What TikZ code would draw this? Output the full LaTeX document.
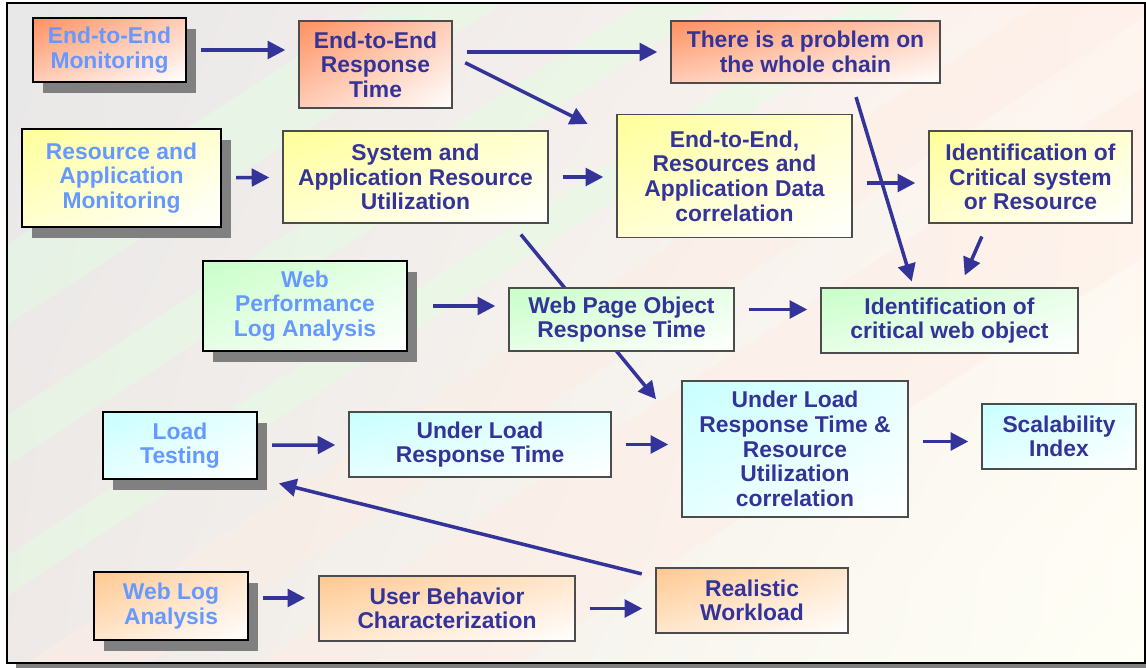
\documentclass[tikz,border=0pt]{standalone}
\usepackage{fontspec}
\setmainfont{Liberation Sans}
\usetikzlibrary{arrows.meta, shadows, shadings}

\definecolor{txtdark}{HTML}{333399}
\definecolor{txtlight}{HTML}{6699FF}
\definecolor{arrowblue}{HTML}{333399}
\definecolor{fillorange}{HTML}{FF9060}
\definecolor{fillyellow}{HTML}{FFFF99}
\definecolor{fillgreen}{HTML}{C8FFC8}
\definecolor{fillcyan}{HTML}{C8FFFF}
\definecolor{fillpeach}{HTML}{FFC890}
\definecolor{bggray}{HTML}{E8E8E8}
\definecolor{bgcream}{HTML}{FFFFF6}
\definecolor{bandgreen}{HTML}{E2FFE2}
\definecolor{bandpink}{HTML}{FFEDE4}

\pgfdeclarelayer{bg}
\pgfdeclarelayer{behind}
\pgfsetlayers{bg,behind,main}

\tikzset{
  x=0.2mm, y=-0.2mm,
  sz/.style 2 args={minimum width=#1*0.2mm, minimum height=#2*0.2mm},
  box/.style={draw=black!70, line width=0.8pt, align=center, inner sep=1pt,
    text=txtdark, font=\bfseries\fontsize{13}{14}\selectfont,
    upper left=#1, upper right=#1!45!white, lower left=#1!45!white, lower right=white},
  source/.style={box=#1, draw=black, line width=1.4pt, text=txtlight,
    drop shadow={shadow xshift=2mm, shadow yshift=-2.2mm, fill=black!50, opacity=1}},
  arr/.style={draw=arrowblue, line width=2pt, -{Triangle[length=10pt, width=10pt]},
    shorten <=2.8mm, shorten >=2.6mm}
}

\begin{document}
\begin{tikzpicture}
\useasboundingbox (0,0) rectangle (1146,668);

% background
\begin{pgfonlayer}{bg}
\fill[black!50] (16,663) rectangle (1146,668);
\shade[upper left=bggray, upper right=bandpink!60!white, lower left=bggray!70!bandpink, lower right=bgcream]
  (7,3) rectangle (1145,663);
\begin{scope}
\clip (7,3) rectangle (1145,663);
\foreach \ca/\cb/\col in {250/330/bandgreen, 420/470/bandgreen, 560/600/bandgreen,
                          680/760/bandpink, 830/1000/bandpink} {
  \fill[\col, opacity=0.45] (0,\ca) -- (0,\cb) -- (1146,\cb-745) -- (1146,\ca-745) -- cycle;
}
\end{scope}
\draw[line width=0.8pt] (7,3) rectangle (1145,663);
\end{pgfonlayer}

% boxes
\node[source=fillorange, sz={153}{64}] (emon) at (109.5,50) {End-to-End\\Monitoring};
\node[box=fillorange, sz={153}{87}] (ert) at (375.5,64.5) {End-to-End\\Response\\Time};
\node[box=fillorange, sz={269}{62}] (prob) at (805.5,52) {There is a problem on\\the whole chain};
\node[source=fillyellow, sz={199}{98}] (rmon) at (121.5,178) {Resource and\\Application\\Monitoring};
\node[box=fillyellow, sz={265}{92}] (sysu) at (415.5,177) {System and\\Application Resource\\Utilization};
\node[box=fillyellow, sz={235}{123}] (corr) at (734.5,176) {End-to-End,\\Resources and\\Application Data\\correlation};
\node[box=fillyellow, sz={203}{92}] (crit) at (1030.5,177) {Identification of\\Critical system\\or Resource};
\node[source=fillgreen, sz={204}{90}] (wplog) at (305,306) {Web\\Performance\\Log Analysis};
\node[box=fillgreen, sz={225}{63}] (wpo) at (621.5,319.5) {Web Page Object\\Response Time};
\node[box=fillgreen, sz={257}{65}] (wobj) at (949.5,320.5) {Identification of\\critical web object};
\node[source=fillcyan, sz={154}{67}] (load) at (180,445.5) {Load\\Testing};
\node[box=fillcyan, sz={262}{65}] (ulrt) at (480,444.5) {Under Load\\Response Time};
\node[box=fillcyan, sz={226}{136}] (ulcorr) at (795,449) {Under Load\\Response Time \&\\Resource\\Utilization\\correlation};
\node[box=fillcyan, sz={154}{65}] (scal) at (1059,436.5) {Scalability\\Index};
\node[source=fillpeach, sz={154}{68}] (wlog) at (171,606) {Web Log\\Analysis};
\node[box=fillpeach, sz={256}{65}] (ubc) at (447,608.5) {User Behavior\\Characterization};
\node[box=fillpeach, sz={192}{65}] (real) at (752,600.5) {Realistic\\Workload};

% connectors
\draw[arr] (emon.east) -- (emon.east -| ert.west);
\draw[arr] (ert.east |- prob.west) -- (prob.west);
\draw[arr] ([yshift=1.6mm]ert.east) -- ([shift={(-17,16)}]corr.north west);
\draw[arr] (rmon) -- (sysu);
\draw[arr] (sysu.east) -- (sysu.east -| corr.west);
\draw[arr] ([yshift=-1.4mm]corr.east) -- ([yshift=-1.4mm]corr.east -| crit.west);
\draw[arr, shorten >=1.2mm] ([xshift=9.3mm]prob.south) -- ([xshift=-7.2mm]wobj.north);
\draw[arr] ([xshift=-8.6mm]crit.south) -- ([xshift=2mm]wobj.north);
\begin{pgfonlayer}{behind}
\draw[arr] ([xshift=19.3mm]sysu.south) -- ([shift={(-17,29)}]ulcorr.north west);
\end{pgfonlayer}
\draw[arr, shorten <=5mm] (wplog.east) -- (wplog.east -| wpo.west);
\draw[arr] ([yshift=2mm]wpo.east) -- ([yshift=2mm]wpo.east -| wobj.west);
\draw[arr] (load) -- (ulrt);
\draw[arr] (ulrt.east) -- (ulrt.east -| ulcorr.west);
\draw[arr] ([yshift=-1mm]scal.west -| ulcorr.east) -- ([yshift=-1mm]scal.west);
\draw[arr] ([yshift=-2mm]real.north west) -- ([xshift=1.6mm]load.south east);
\draw[arr] ([yshift=1.6mm]wlog.east) -- ([yshift=1.6mm]wlog.east -| ubc.west);
\draw[arr] (ubc.east) -- (ubc.east -| real.west);
\end{tikzpicture}
\end{document}
